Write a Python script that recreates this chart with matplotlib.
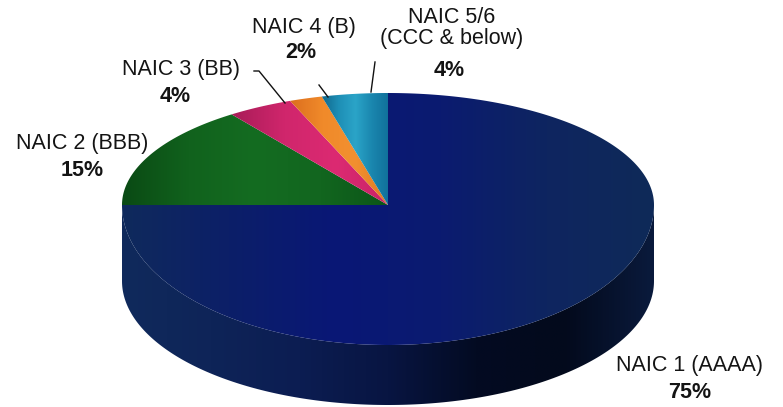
import numpy as np
import matplotlib
matplotlib.use("Agg")
import matplotlib.pyplot as plt
from matplotlib.patches import Polygon
from matplotlib.colors import LinearSegmentedColormap

# data
labels = ["NAIC 1 (AAAA)", "NAIC 2 (BBB)", "NAIC 3 (BB)", "NAIC 4 (B)", "NAIC 5/6\n(CCC & below)"]
values = [75, 15, 4, 2, 4]
pct_labels = ["75%", "15%", "4%", "2%", "4%"]

# gradient stops for each slice, left -> right
top_colors = [
    ["#0f2a5c", "#0c1f68", "#091776", "#0b1b70", "#0e2560", "#0f2a58"],
    ["#0a4a14", "#11621d", "#146c21", "#12661f", "#0c5618"],
    ["#a81c58", "#d0266c", "#dc2a72", "#c82366"],
    ["#dc6e1e", "#f08a2a", "#f29030", "#e07a22"],
    ["#10688c", "#1e8fb6", "#2ba4c8", "#1a86ae", "#10709a"],
]
side_colors = ["#102a5c", "#0e2458", "#0c1d52", "#081542", "#030b22", "#030a1c", "#0a1a3c"]

font = ["Liberation Sans", "DejaVu Sans"]

W, H = 783, 407
fig = plt.figure(figsize=(W / 100, H / 100), dpi=100)
ax = fig.add_axes([0, 0, 1, 1])
ax.set_axis_off()

# pie geometry in pixels (slight perspective: front half deeper than back)
cx, cy = 388, 205
rx, ry_back, ry_front = 266, 112, 140
depth, ry_front_b = 76, 124


def rim(t, x0=cx, y0=cy, rb=ry_back, rf=ry_front):
    s = np.sin(t)
    ry = np.where(s > 0, rb, rf)
    return x0 + rx * np.cos(t), y0 - ry * s


def shade(patch, colors):
    ax.add_patch(patch)
    v = patch.get_xy()
    x0, x1 = v[:, 0].min(), v[:, 0].max()
    y0, y1 = v[:, 1].min(), v[:, 1].max()
    cmap = LinearSegmentedColormap.from_list("g", colors)
    grad = np.linspace(0, 1, 256)[None, :]
    im = ax.imshow(grad, cmap=cmap, extent=(x0, x1, y1, y0), aspect="auto",
                   interpolation="bilinear", zorder=patch.get_zorder())
    im.set_clip_path(patch)


# side band (front half)
t = np.linspace(np.pi, 2 * np.pi, 200)
xt, yt = rim(t)
xb, yb = rim(t[::-1], y0=cy + depth, rf=ry_front_b)
side = Polygon(np.column_stack([np.r_[xt, xb], np.r_[yt, yb]]), closed=True,
               facecolor="none", edgecolor="none", zorder=1)
shade(side, side_colors)

# top slices, clockwise from 12 o'clock
bounds = 90 - 360 * np.cumsum([0] + values) / sum(values)
for i in range(len(values)):
    a0, a1 = np.radians(bounds[i]), np.radians(bounds[i + 1])
    tt = np.linspace(a0, a1, max(int(abs(a1 - a0) * 80), 8))
    xs, ys = rim(tt)
    poly = Polygon(np.column_stack([np.r_[cx, xs], np.r_[cy, ys]]), closed=True,
                   facecolor="none", edgecolor="none", zorder=2)
    shade(poly, top_colors[i])

# labels
fs = 15.5
lab_pos = [(690, 366), (82, 144), (181, 70), (304, 27), (452, 28)]
pct_pos = [(690, 392), (82, 170), (175, 97), (301, 53), (449, 70)]
for lab, pct, (lx, ly), (px, py) in zip(labels, pct_labels, lab_pos, pct_pos):
    ax.text(lx, ly, lab, ha="center", va="center", fontsize=fs, family=font,
            color="#141414", linespacing=1.05)
    ax.text(px, py, pct, ha="center", va="center", fontsize=fs, family=font,
            fontweight="bold", color="#141414")

# leader lines
ax.plot([254, 259, 285], [71, 71, 103], color="#111111", lw=1, zorder=3)
ax.plot([319, 328], [85, 97], color="#111111", lw=1, zorder=3)
ax.plot([375, 371], [62, 92], color="#111111", lw=1, zorder=3)

ax.set_xlim(0, W)
ax.set_ylim(H, 0)
fig.savefig("out.png", dpi=100, facecolor="white")
